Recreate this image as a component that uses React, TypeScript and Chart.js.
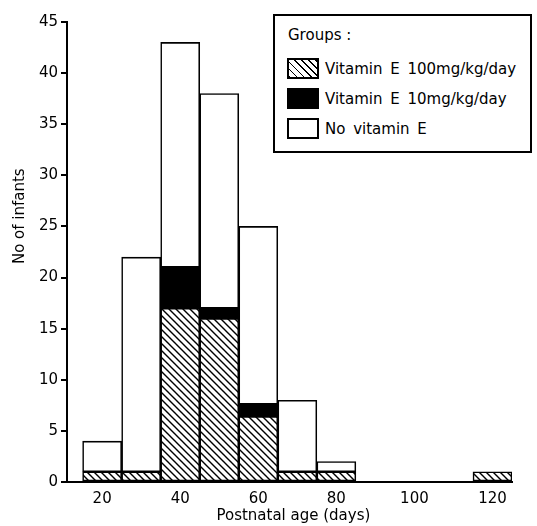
import React, { useEffect, useRef } from 'react';
import { Chart, registerables } from 'chart.js';

Chart.register(...registerables);

// ---- data ----
const ageBins = [20, 30, 40, 50, 60, 70, 80, 90, 100, 110, 120];
const vitE100 = [1, 1, 17, 16, 6.4, 1, 1, 0, 0, 0, 1];
const vitE10 = [0, 0, 4, 1, 1.2, 0, 0, 0, 0, 0, 0];
const noVitE = [3, 21, 22, 21, 17.4, 7, 1, 0, 0, 0, 0];
const xTickValues = [20, 40, 60, 80, 100, 120];
const yMax = 45;
const yStep = 5;
const seriesLabels = ['Vitamin E 100mg/kg/day', 'Vitamin E 10mg/kg/day', 'No vitamin E'];
const legendTitle = 'Groups :';
const xTitle = 'Postnatal age (days)';
const yTitle = 'No of infants';

const FONT = '"DejaVu Sans", sans-serif';

function makeHatch(): CanvasPattern | string {
  const s = 7;
  const c = document.createElement('canvas');
  c.width = s;
  c.height = s;
  const g = c.getContext('2d');
  if (!g) return '#fff';
  g.fillStyle = '#fff';
  g.fillRect(0, 0, s, s);
  g.strokeStyle = '#000';
  g.lineWidth = 1.4;
  g.beginPath();
  g.moveTo(-1, -1);
  g.lineTo(s + 1, s + 1);
  g.moveTo(-1, s - 1);
  g.lineTo(1, s + 1);
  g.moveTo(s - 1, -1);
  g.lineTo(s + 1, 1);
  g.stroke();
  const p = g.createPattern(c, 'repeat');
  return p || '#fff';
}

const toPoints = (vals: number[]) =>
  ageBins.map((x, i) => ({ x, y: vals[i] === 0 ? null : vals[i] }));

const titlePlugin = {
  id: 'axisTitles',
  afterDraw(chart: any) {
    const { ctx, scales } = chart;
    const x = scales.x;
    const y = scales.y;
    ctx.save();
    ctx.fillStyle = '#000';
    ctx.font = `15px ${FONT}`;
    ctx.textAlign = 'center';
    ctx.textBaseline = 'middle';
    ctx.fillText(xTitle, x.getPixelForValue(69), 516);
    ctx.translate(20, y.getPixelForValue(26));
    ctx.rotate(-Math.PI / 2);
    ctx.fillText(yTitle, 0, 0);
    ctx.restore();
  },
};

function ChartView() {
  const ref = useRef<HTMLCanvasElement | null>(null);
  useEffect(() => {
    if (!ref.current) return;
    const hatch = makeHatch();
    const common = {
      borderColor: '#000',
      borderWidth: 1.6,
      borderSkipped: false,
      barPercentage: 1,
      categoryPercentage: 1,
    };
    const chart = new Chart(ref.current, {
      type: 'bar',
      data: {
        datasets: [
          { label: seriesLabels[0], data: toPoints(vitE100), backgroundColor: hatch, ...common },
          { label: seriesLabels[1], data: toPoints(vitE10), backgroundColor: '#000', ...common },
          { label: seriesLabels[2], data: toPoints(noVitE), backgroundColor: '#fff', ...common },
        ] as any,
      },
      options: {
        animation: false,
        responsive: false,
        events: [],
        layout: { padding: { top: 22, right: 25, bottom: 0, left: 0 } },
        plugins: { legend: { display: false }, tooltip: { enabled: false } },
        scales: {
          x: {
            type: 'linear',
            stacked: true,
            offset: false,
            min: 11,
            max: 125,
            afterBuildTicks: (axis: any) => {
              axis.ticks = xTickValues.map((v) => ({ value: v }));
            },
            afterFit: (s: any) => {
              s.height = 44;
            },
            grid: { display: false },
            border: { display: true, color: '#000', width: 2 },
            ticks: {
              color: '#000',
              font: { family: FONT, size: 15 },
              padding: 0,
              maxRotation: 0,
              autoSkip: false,
            },
          },
          y: {
            stacked: true,
            min: 0,
            max: yMax,
            afterFit: (s: any) => {
              s.width = 67;
            },
            grid: {
              drawOnChartArea: false,
              drawTicks: true,
              tickLength: 6,
              color: '#000',
              lineWidth: 2,
            },
            border: { display: true, color: '#000', width: 2 },
            ticks: {
              stepSize: yStep,
              color: '#000',
              font: { family: FONT, size: 15 },
              padding: 3,
            },
          },
        },
      } as any,
      plugins: [titlePlugin],
    });
    return () => chart.destroy();
  }, []);
  return <canvas ref={ref} width={537} height={526} style={{ display: 'block' }} />;
}

const swatchBase: React.CSSProperties = {
  width: 28,
  height: 17,
  border: '2px solid #000',
  marginRight: 6,
  flex: '0 0 auto',
};

export default function App() {
  const swatches: React.CSSProperties[] = [
    {
      ...swatchBase,
      background:
        'repeating-linear-gradient(45deg, #000 0px, #000 1.3px, #fff 1.3px, #fff 5px)',
    },
    { ...swatchBase, background: '#000' },
    { ...swatchBase, background: '#fff' },
  ];
  return (
    <div
      style={{
        position: 'fixed',
        left: 0,
        top: 0,
        width: 537,
        height: 526,
        background: '#fff',
        fontFamily: FONT,
        color: '#000',
      }}
    >
      <ChartView />
      <div
        style={{
          position: 'absolute',
          left: 273,
          top: 14,
          width: 255,
          height: 135,
          border: '2px solid #000',
          background: '#fff',
          fontSize: 15,
          boxSizing: 'content-box',
        }}
      >
        <div style={{ position: 'absolute', left: 13, top: 9, lineHeight: '20px' }}>{legendTitle}</div>
        {seriesLabels.map((lab, i) => (
          <div
            key={lab}
            style={{
              position: 'absolute',
              left: 12,
              top: 42 + i * 30,
              display: 'flex',
              alignItems: 'center',
              whiteSpace: 'nowrap',
              wordSpacing: 3,
            }}
          >
            <div style={swatches[i]} />
            <span>{lab}</span>
          </div>
        ))}
      </div>
    </div>
  );
}
